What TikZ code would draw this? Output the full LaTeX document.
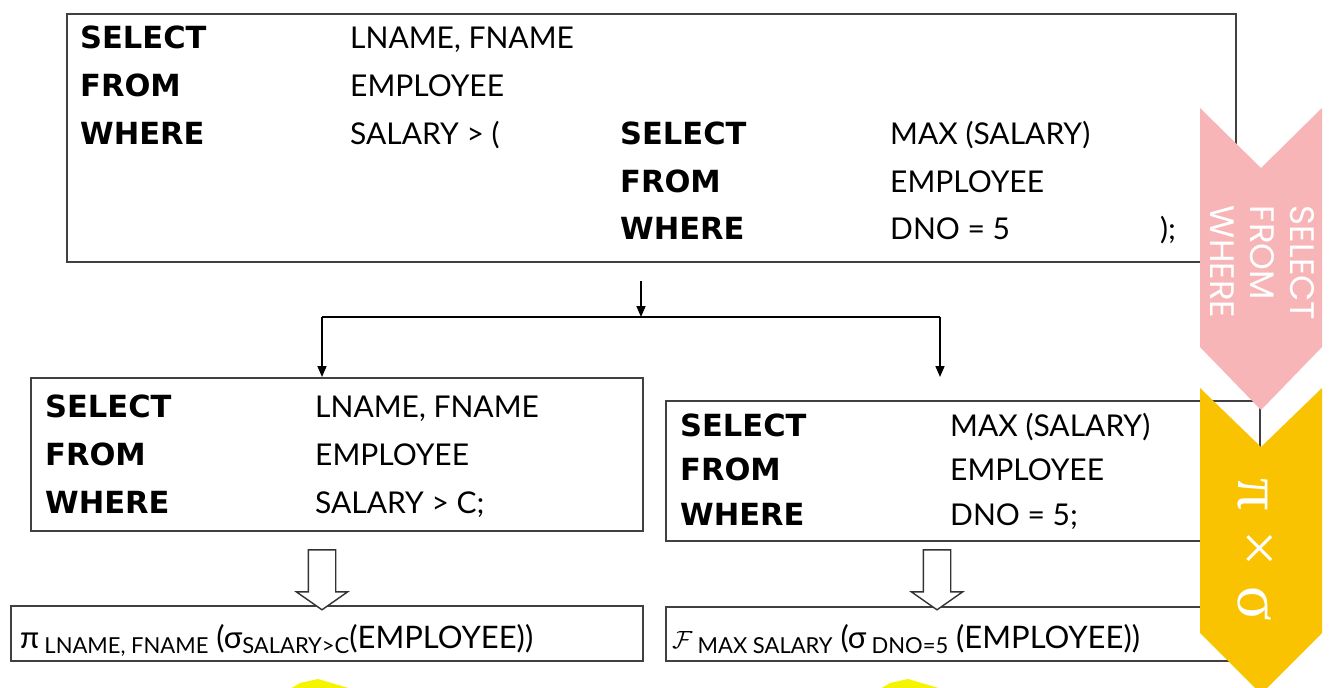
\documentclass[tikz,border=0pt]{standalone}
\usepackage{fontspec}
\setmainfont{Lato}
\newfontfamily\kwfont{DejaVu Sans}
\newfontfamily\chevfont{Poppins}
\newfontfamily\greekfont{Liberation Serif}
\usepackage{tikz}
\usetikzlibrary{arrows.meta, positioning, shapes.arrows}
\definecolor{chevpink}{HTML}{F8B5B7}
\definecolor{chevgold}{HTML}{FAC302}
\definecolor{hiyellow}{HTML}{F5F500}
\newcommand{\lowsub}[1]{\raisebox{-0.35ex}{\fontsize{22}{24}\selectfont #1}}

\begin{document}
\begin{tikzpicture}[
    x=1pt, y=-1pt,
    box/.style={rectangle, draw=black!75, line width=1.6pt, inner sep=0pt, anchor=north west},
    kw/.style={anchor=base west, inner sep=0pt, font=\kwfont\fontsize{30.5}{36}\selectfont\bfseries},
    val/.style={anchor=base west, inner sep=0pt, font=\fontsize{30}{36}\selectfont},
    alg/.style={anchor=base west, inner sep=0pt, font=\fontsize{31}{36}\selectfont},
    arrow/.style={line width=1.6pt, -{Triangle[length=11pt, width=9pt]}},
    line/.style={line width=1.6pt},
    hollow/.style={single arrow, draw=black!80, fill=white, line width=1.4pt, minimum height=60pt, single arrow head extend=12pt, single arrow tip angle=110, inner sep=0pt, rotate=-90},
    chevtext/.style={text=white, rotate=-90, align=left, font=\chevfont\fontsize{34}{40}\selectfont},
    greektext/.style={text=white, rotate=-90, font=\greekfont\fontsize{64}{70}\selectfont}
]
    \fill[white] (0,0) rectangle (1342,688);
    \clip (0,0) rectangle (1342,688);

    % Nested query
    \node[box, minimum width=1169pt, minimum height=248pt] (outer) at (66,13) {};
    \node[kw] (sel1) at (80,48) {SELECT};
    \node[val] (cols1) at (350,48) {LNAME, FNAME};
    \node[kw] (from1) at (80,96) {FROM};
    \node[val] (tab1) at (350,96) {EMPLOYEE};
    \node[kw] (where1) at (80,144) {WHERE};
    \node[val] (cond1) at (350,144) {SALARY > (};
    \node[kw] (sel2) at (620,144) {SELECT};
    \node[val] (cols2) at (890,144) {MAX (SALARY)};
    \node[kw] (from2) at (620,192) {FROM};
    \node[val] (tab2) at (890,192) {EMPLOYEE};
    \node[kw] (where2) at (620,239) {WHERE};
    \node[val] (cond2) at (890,239) {DNO = 5};
    \node[val] (close2) at (1160,239) {);};

    % Split into two blocks
    \coordinate (stem) at (641,281);
    \coordinate (fork) at (641,317);
    \coordinate (forkl) at (322,317);
    \coordinate (forkr) at (940,317);
    \coordinate (rend) at (940,377);

    % Outer block
    \node[box, minimum width=612pt, minimum height=153pt] (outerq) at (30,377) {};
    \node[kw] (sel3) at (45,417) {SELECT};
    \node[val] (cols3) at (315,417) {LNAME, FNAME};
    \node[kw] (from3) at (45,465) {FROM};
    \node[val] (tab3) at (315,465) {EMPLOYEE};
    \node[kw] (where3) at (45,513) {WHERE};
    \node[val] (cond3) at (315,513) {SALARY > C;};

    % Inner block
    \node[box, minimum width=594pt, minimum height=140pt] (innerq) at (665,400) {};
    \node[kw] (sel4) at (680,436) {SELECT};
    \node[val] (cols4) at (950,436) {MAX (SALARY)};
    \node[kw] (from4) at (680,480) {FROM};
    \node[val] (tab4) at (950,480) {EMPLOYEE};
    \node[kw] (where4) at (680,525) {WHERE};
    \node[val] (cond4) at (950,525) {DNO = 5;};

    % Algebra
    \node[box, minimum width=632pt, minimum height=55pt] (outeralg) at (10,605) {};
    \node[alg] (outerexpr) at (20,648) {π\,\lowsub{LNAME, FNAME} (σ\lowsub{SALARY>C}(EMPLOYEE))};
    \node[box, minimum width=594pt, minimum height=54pt] (inneralg) at (665,606) {};
    \node[alg] (innerexpr) at (672,648) {$\mathcal{F}$\,\lowsub{MAX SALARY} (σ\,\lowsub{DNO=5} (EMPLOYEE))};

    \node[hollow] (outerarr) at (322,575) {\rule{0pt}{26pt}};
    \node[hollow] (innerarr) at (937,575) {\rule{0pt}{26pt}};

    % Connections
    \draw[arrow] (stem) -- (fork);
    \draw[line] (forkl) -- (forkr);
    \draw[arrow] (forkl) -- (forkl |- outerq.north);
    \draw[arrow] (forkr) -- (rend);

    % Side chevrons
    \fill[chevpink] (1200,108) -- (1261,168) -- (1322,108) -- (1322,347) -- (1261,410) -- (1200,347) -- cycle;
    \fill[chevgold] (1200,388) -- (1261,447) -- (1322,388) -- (1322,633) -- (1261,694) -- (1200,633) -- cycle;
    \node[chevtext] (sfwlabel) at (1262,263) {SELECT\\FROM\\WHERE};
    \node[greektext] (opslabel) at (1255,550) {π\hspace{20pt}×\hspace{20pt}σ};

    % Next arrows (cut off)
    \fill[hiyellow] (290,689) -- (300,683) -- (318,679) -- (352,689) -- cycle;
    \fill[hiyellow] (880,689) -- (890,683) -- (908,679) -- (942,689) -- cycle;
\end{tikzpicture}
\end{document}
